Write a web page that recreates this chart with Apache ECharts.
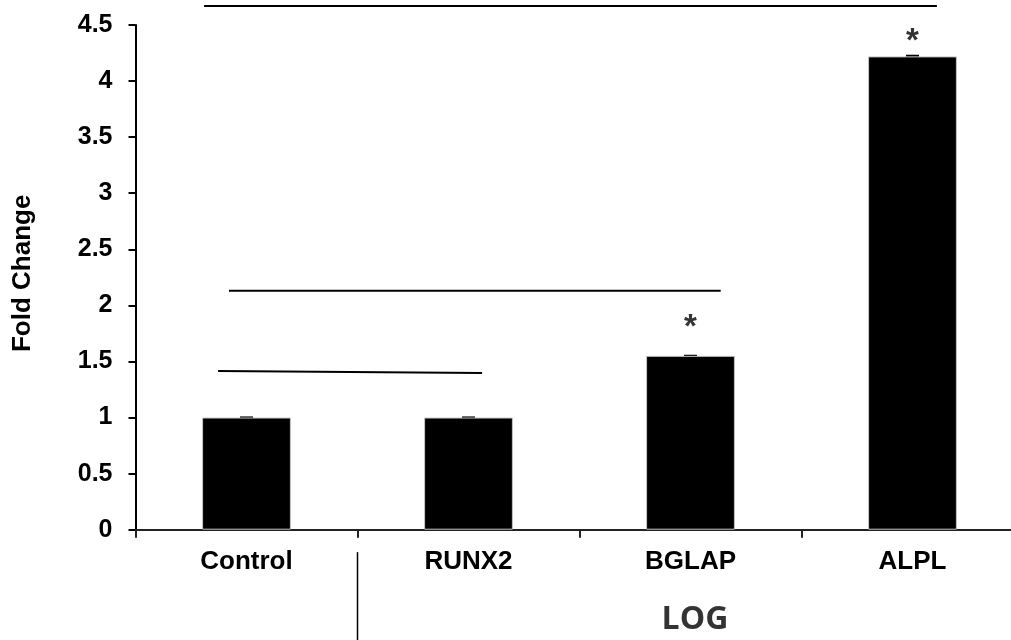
<!DOCTYPE html>
<html>
<head>
<meta charset="utf-8">
<script src="https://cdn.jsdelivr.net/npm/echarts@6/dist/echarts.min.js"></script>
<style>
html,body{margin:0;padding:0;background:#fff;}
#chart{width:1011px;height:640px;}
</style>
</head>
<body>
<div id="chart"></div>
<script>
// ---- data ----
const categories = ['Control', 'RUNX2', 'BGLAP', 'ALPL'];
const foldChange = [1.0, 1.0, 1.55, 4.22];
const errors = [0.01, 0.01, 0.01, 0.015];
const yTicks = { min: 0, max: 4.5, interval: 0.5 };
// asterisk markers (category, value)
const sigMarks = [['BGLAP', 1.86], ['ALPL', 4.415]];
// comparison lines in (group position, fold change) space; group axis 0..4
const lineTop = [[0.309, 4.67], [3.61, 4.67]];
const lineMid = [[0.421, 2.13], [2.636, 2.13]];
const lineLow = [[0.372, 1.414], [1.561, 1.397]];
const groupDivider = [[1, -0.2], [1, -1.0]];
const groupLabel = [[2.52, -0.8, 'LOG']];

const chart = echarts.init(document.getElementById('chart'), null, { renderer: 'canvas' });
const fontFam = '"Liberation Sans", Arial, sans-serif';

function lineSeries(data, w) {
  return {
    type: 'line', xAxisIndex: 1, yAxisIndex: 0, data: data,
    symbol: 'none', clip: false, silent: true,
    lineStyle: { color: '#000', width: w }
  };
}

chart.setOption({
  animation: false,
  backgroundColor: '#fff',
  grid: { left: 135.5, right: -12.5, top: 25, bottom: 110.3, containLabel: false, outerBoundsMode: 'none' },
  xAxis: [{
    type: 'category',
    data: categories,
    axisLine: { lineStyle: { color: '#222', width: 2 } },
    axisTick: { show: true, length: 8, lineStyle: { color: '#222', width: 2 } },
    axisLabel: { color: '#000', fontFamily: fontFam, fontWeight: 'bold', fontSize: 26, margin: 19 },
    splitLine: { show: false }
  }, {
    type: 'value', min: 0, max: 4, show: false
  }],
  yAxis: [{
    type: 'value',
    min: yTicks.min, max: yTicks.max, interval: yTicks.interval,
    name: 'Fold Change',
    nameLocation: 'middle',
    nameRotate: 90,
    nameGap: 100,
    nameTextStyle: { color: '#000', fontFamily: fontFam, fontWeight: 'bold', fontSize: 26, padding: [0, 0, 0, 8] },
    axisLine: { show: true, lineStyle: { color: '#000', width: 2 } },
    axisTick: { show: true, length: 7, lineStyle: { color: '#000', width: 2 } },
    axisLabel: { color: '#000', fontFamily: fontFam, fontWeight: 'bold', fontSize: 25, margin: 23 },
    splitLine: { show: false }
  }],
  series: [
    {
      type: 'bar', data: foldChange, barWidth: '40%',
      itemStyle: { color: '#000', borderColor: '#c4c4c4', borderWidth: 1 }
    },
    {
      type: 'custom',
      data: foldChange.map((v, i) => [i, v, errors[i]]),
      encode: { x: 0, y: 1 },
      clip: false,
      renderItem: function (params, api) {
        const top = api.coord([api.value(0), api.value(1) + api.value(2)]);
        const base = api.coord([api.value(0), api.value(1)]);
        return {
          type: 'rect',
          shape: { x: top[0] - 6.5, y: top[1], width: 13, height: Math.max(2, base[1] - top[1] + 0.5) },
          style: { fill: '#000' }
        };
      }
    },
    {
      type: 'scatter', data: sigMarks, symbolSize: 0, clip: false, silent: true,
      label: {
        show: true, position: 'inside', formatter: '*', offset: [0, 7],
        color: '#000', fontFamily: fontFam, fontWeight: 'bold', fontSize: 33
      }
    },
    lineSeries(lineTop, 2),
    lineSeries(lineMid, 2),
    lineSeries(lineLow, 2),
    lineSeries(groupDivider, 1.5),
    {
      type: 'scatter', xAxisIndex: 1, data: groupLabel, symbolSize: 0, clip: false, silent: true,
      label: {
        show: true, position: 'inside', formatter: p => p.data[2],
        color: '#000', fontFamily: '"Open Sans", sans-serif', fontWeight: 'bold', fontSize: 32
      }
    }
  ]
});
</script>
</body>
</html>
